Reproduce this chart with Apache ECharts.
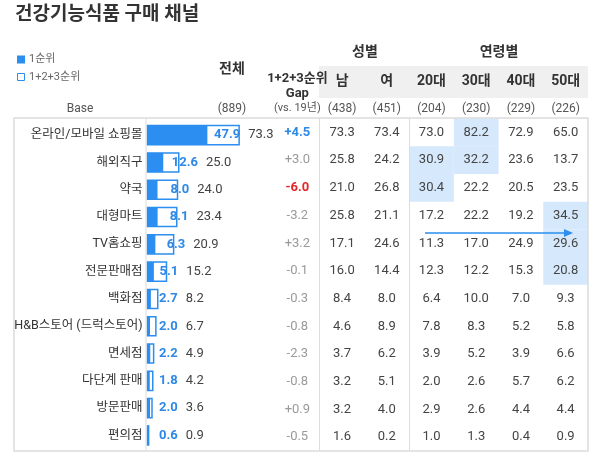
<!DOCTYPE html>
<html>
<head>
<meta charset="UTF-8">
<title>건강기능식품 구매 채널</title>
<style>
  html,body{margin:0;height:100%;width:100%;background:#fff}
  #main{width:600px;height:456px}
</style>
<script src="https://cdn.jsdelivr.net/npm/echarts@6/dist/echarts.min.js"></script>
</head>
<body>
<div id="main"></div>
<script>
  // 데이터
  var channels = ['온라인/모바일 쇼핑몰', '해외직구', '약국', '대형마트', 'TV홈쇼핑', '전문판매점',
                  '백화점', 'H&B스토어 (드럭스토어)', '면세점', '다단계 판매', '방문판매', '편의점'];
  var rank1   = [47.9, 12.6, 8.0, 8.1, 6.3, 5.1, 2.7, 2.0, 2.2, 1.8, 2.0, 0.6];
  var rank123 = [73.3, 25.0, 24.0, 23.4, 20.9, 15.2, 8.2, 6.7, 4.9, 4.2, 3.6, 0.9];
  var gap19   = [4.5, 3.0, -6.0, -3.2, 3.2, -0.1, -0.3, -0.8, -2.3, -0.8, 0.9, -0.5];
  var male    = [73.3, 25.8, 21.0, 25.8, 17.1, 16.0, 8.4, 4.6, 3.7, 3.2, 3.2, 1.6];
  var female  = [73.4, 24.2, 26.8, 21.1, 24.6, 14.4, 8.0, 8.9, 6.2, 5.1, 4.0, 0.2];
  var age20   = [73.0, 30.9, 30.4, 17.2, 11.3, 12.3, 6.4, 7.8, 3.9, 2.0, 2.9, 1.0];
  var age30   = [82.2, 32.2, 22.2, 22.2, 17.0, 12.2, 10.0, 8.3, 5.2, 2.6, 2.6, 1.3];
  var age40   = [72.9, 23.6, 20.5, 19.2, 24.9, 15.3, 7.0, 5.2, 3.9, 5.7, 4.4, 0.4];
  var age50   = [65.0, 13.7, 23.5, 34.5, 29.6, 20.8, 9.3, 5.8, 6.6, 6.2, 4.4, 0.9];
  var columns = ['Gap', '남', '여', '20대', '30대', '40대', '50대'];
  var baseTotal = 889;
  var baseCounts = [null, 438, 451, 204, 230, 229, 226];

  var FONT = 'Roboto, "Noto Sans CJK KR", sans-serif';
  var BLUE = '#2b8ef0';
  var BLUE_TXT = '#2e88e6';

  var ctx = document.createElement('canvas').getContext('2d');
  function textW(s, font) { ctx.font = font; return ctx.measureText(s).width; }

  // 표 셀 (gap + 성별 + 연령별)
  var valueCols = [male, female, age20, age30, age40, age50];
  var cells = [];
  channels.forEach(function (name, r) {
    var g = gap19[r];
    var gtxt = (g > 0 ? '+' : '') + g.toFixed(1);
    var strong = Math.abs(g) >= 4;
    cells.push({ c: 0, r: r, text: gtxt, hi: false,
      color: strong ? (g > 0 ? BLUE_TXT : '#e5262a') : '#9a9a9a', bold: strong });
    valueCols.forEach(function (arr, k) {
      var isAge = k >= 2;
      cells.push({ c: k + 1, r: r, text: arr[r].toFixed(1),
        hi: isAge && arr[r] - rank123[r] >= 5, color: '#444', bold: false });
    });
  });

  function renderCell(params, api) {
    var item = cells[params.dataIndex];
    var p = api.coord([api.value(0), api.value(1)]);
    var s = api.size([1, 1]);
    var children = [];
    if (item.hi) {
      children.push({ type: 'rect',
        shape: { x: p[0] - s[0] / 2, y: p[1] - s[1] / 2, width: s[0], height: s[1] },
        style: { fill: '#d6e9fc' } });
    }
    children.push({ type: 'text', style: {
      text: item.text, x: p[0], y: p[1], align: 'center', verticalAlign: 'middle',
      fill: item.color, fontSize: 13, fontWeight: item.bold ? 'bold' : 'normal', fontFamily: FONT } });
    return { type: 'group', children: children };
  }

  function renderBar(params, api) {
    var f = api.value(0), t = api.value(1), r = api.value(2);
    var p0 = api.coord([0, r]);
    var pf = api.coord([f, r]);
    var pt = api.coord([t, r]);
    var h = api.size([0, 1])[1] * 0.7;
    var y = p0[1] - h / 2;
    var bTxt = f.toFixed(1), gTxt = t.toFixed(1);
    var bFont = 'bold 13px ' + FONT;
    var bw = textW(bTxt, bFont);
    var inside = (pt[0] - pf[0]) > bw + 4;
    var bx = inside ? pt[0] - bw + 1 : Math.max(pt[0] - 7, p0[0] + 11.5);
    return { type: 'group', children: [
      { type: 'rect', shape: { x: p0[0], y: y, width: pt[0] - p0[0], height: h },
        style: { fill: '#fff', stroke: BLUE, lineWidth: 1.5 } },
      { type: 'rect', shape: { x: p0[0], y: y, width: pf[0] - p0[0], height: h },
        style: { fill: BLUE } },
      { type: 'text', style: { text: bTxt, x: bx, y: p0[1], align: 'left', verticalAlign: 'middle',
        fill: BLUE_TXT, fontSize: 13, fontWeight: 'bold', fontFamily: FONT } },
      { type: 'text', style: { text: gTxt, x: bx + bw + 8, y: p0[1], align: 'left', verticalAlign: 'middle',
        fill: '#444', fontSize: 13, fontFamily: FONT } }
    ] };
  }

  var chart = echarts.init(document.getElementById('main'));
  var option = {
    animation: false,
    textStyle: { fontFamily: FONT },
    grid: [
      { left: 147.5, top: 121.5, width: 125, height: 327.6 },
      { left: 275, top: 118.6, right: 12, height: 332.4 }
    ],
    xAxis: [
      { gridIndex: 0, type: 'value', min: 0, max: 100, show: false },
      { gridIndex: 1, type: 'category', data: columns, position: 'top',
        axisLine: { show: false }, axisTick: { show: false },
        axisLabel: { interval: 0, margin: 3,
          formatter: function (v, i) {
            if (i === 0) return '{g|1+2+3순위}\n{g|Gap}\n{s|(vs. 19년)}';
            return '{h|' + v + '}\n{b|(' + baseCounts[i] + ')}';
          },
          rich: {
            g: { fontSize: 13, fontWeight: 'bold', color: '#333', lineHeight: 15, fontFamily: FONT },
            s: { fontSize: 11, color: '#555', lineHeight: 14, fontFamily: FONT },
            h: { fontSize: 14, fontWeight: 'bold', color: '#333', lineHeight: 41, fontFamily: FONT },
            b: { fontSize: 12, color: '#555', lineHeight: 14, fontFamily: FONT }
          } } }
    ],
    yAxis: [
      { gridIndex: 0, type: 'category', data: channels, inverse: true,
        axisLine: { show: false }, axisTick: { show: false }, splitLine: { show: false },
        axisLabel: { color: '#333', fontSize: 12.5, margin: 5, fontFamily: FONT } },
      { gridIndex: 1, type: 'category', data: channels, inverse: true, show: false }
    ],
    series: [
      { type: 'custom', xAxisIndex: 0, yAxisIndex: 0, renderItem: renderBar, z: 3,
        encode: { x: [0, 1], y: 2 },
        data: rank1.map(function (v, i) { return [v, rank123[i], i]; }) },
      { type: 'custom', xAxisIndex: 1, yAxisIndex: 1, renderItem: renderCell, z: 2,
        encode: { x: 0, y: 1 },
        data: cells.map(function (d) { return [d.c, d.r]; }) }
    ],
    graphic: [
      // 헤더 배경
      { type: 'rect', z: -10, shape: { x: 319, y: 66, width: 269, height: 32 }, style: { fill: '#f0f0f0' } },
      // 제목
      { type: 'text', left: 15, top: 6, style: { text: '건강기능식품 구매 채널', fill: '#333',
        fontSize: 19, fontWeight: 'bold', fontFamily: FONT } },
      // 범례
      { type: 'rect', shape: { x: 17, y: 55.5, width: 8, height: 8 }, style: { fill: BLUE } },
      { type: 'text', x: 29, y: 59.5, style: { text: '1순위', fill: '#666', fontSize: 11,
        verticalAlign: 'middle', fontFamily: FONT } },
      { type: 'rect', shape: { x: 17.5, y: 73.5, width: 7, height: 7 },
        style: { fill: '#fff', stroke: BLUE, lineWidth: 1 } },
      { type: 'text', x: 29, y: 77, style: { text: '1+2+3순위', fill: '#666', fontSize: 11,
        verticalAlign: 'middle', fontFamily: FONT } },
      // 전체 / Base
      { type: 'text', x: 232, y: 69, style: { text: '전체', fill: '#333', fontSize: 14, fontWeight: 'bold',
        align: 'center', verticalAlign: 'middle', fontFamily: FONT } },
      { type: 'text', x: 80, y: 109, style: { text: 'Base', fill: '#555', fontSize: 12,
        align: 'center', verticalAlign: 'middle', fontFamily: FONT } },
      { type: 'text', x: 232, y: 109, style: { text: '(' + baseTotal + ')', fill: '#555', fontSize: 12,
        align: 'center', verticalAlign: 'middle', fontFamily: FONT } },
      { type: 'text', x: 365, y: 52, style: { text: '성별', fill: '#333', fontSize: 14, fontWeight: 'bold',
        align: 'center', verticalAlign: 'middle', fontFamily: FONT } },
      { type: 'text', x: 499, y: 52, style: { text: '연령별', fill: '#333', fontSize: 14, fontWeight: 'bold',
        align: 'center', verticalAlign: 'middle', fontFamily: FONT } },
      // 표 테두리
      { type: 'rect', z: 10, shape: { x: 14, y: 118, width: 574, height: 333 },
        style: { fill: 'none', stroke: '#dcdcdc', lineWidth: 1.5 } },
      { type: 'line', z: 10, shape: { x1: 146, y1: 118, x2: 146, y2: 451 }, style: { stroke: '#dcdcdc', lineWidth: 1 } },
      { type: 'line', z: 10, shape: { x1: 319.5, y1: 118, x2: 319.5, y2: 451 }, style: { stroke: '#dcdcdc', lineWidth: 1 } },
      { type: 'line', z: 10, shape: { x1: 409.5, y1: 118, x2: 409.5, y2: 451 }, style: { stroke: '#dcdcdc', lineWidth: 1 } },
      // 화살표
      { type: 'line', z: 10, shape: { x1: 425, y1: 233, x2: 566, y2: 233 }, style: { stroke: BLUE, lineWidth: 1.5 } },
      { type: 'polygon', z: 10, shape: { points: [[573, 233], [564, 229], [564, 237]] }, style: { fill: BLUE } }
    ]
  };
  chart.setOption(option);
</script>
</body>
</html>
